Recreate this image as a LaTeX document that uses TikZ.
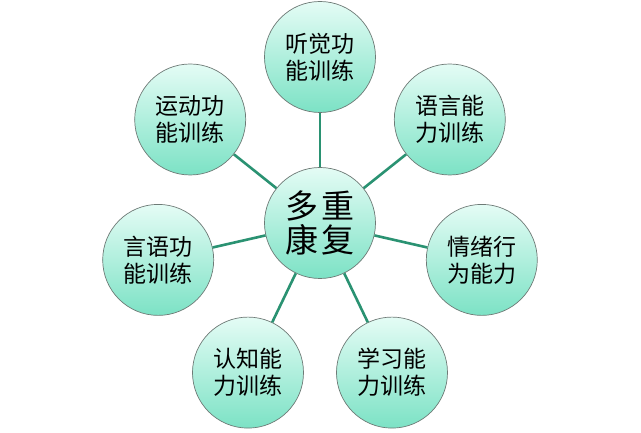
\documentclass[tikz,border=0pt]{standalone}
\usepackage{fontspec}
\newfontfamily\cjk{Noto Sans CJK SC}
\definecolor{mintTop}{HTML}{E4FCF5}
\definecolor{mintBot}{HTML}{7CE2C5}
\definecolor{linkGreen}{HTML}{2A9272}
\definecolor{rimGray}{HTML}{6E7A76}
\begin{document}
\begin{tikzpicture}[x=1pt,y=1pt,
  bubble/.style={circle, minimum size=111pt, inner sep=0pt, draw=rimGray, line width=0.7pt,
    top color=mintTop, bottom color=mintBot, align=center,
    font=\cjk\fontsize{23}{27}\selectfont},
  hub/.style={bubble, font=\cjk\fontsize{33}{34}\selectfont},
  link/.style={draw=linkGreen, line width=2.6pt}]
\useasboundingbox (0,0) rectangle (641,433);
\node[hub] (c) at (320,210) {多\hspace{3pt}重\\康\hspace{3pt}复};
\node[bubble] (hear)   at (320.0,376.0) {听觉功\\能训练};
\node[bubble] (lang)   at (449.8,313.5) {语言能\\力训练};
\node[bubble] (emo)    at (481.8,173.1) {情绪行\\为能力};
\node[bubble] (learn)  at (392.0,60.4)  {学习能\\力训练};
\node[bubble] (cog)    at (248.0,60.4)  {认知能\\力训练};
\node[bubble] (speech) at (158.2,173.1) {言语功\\能训练};
\node[bubble] (motor)  at (190.2,313.5) {运动功\\能训练};
\foreach \s in {hear,lang,emo,learn,cog,speech,motor}
  \draw[link] (c) -- (\s);
\end{tikzpicture}
\end{document}
